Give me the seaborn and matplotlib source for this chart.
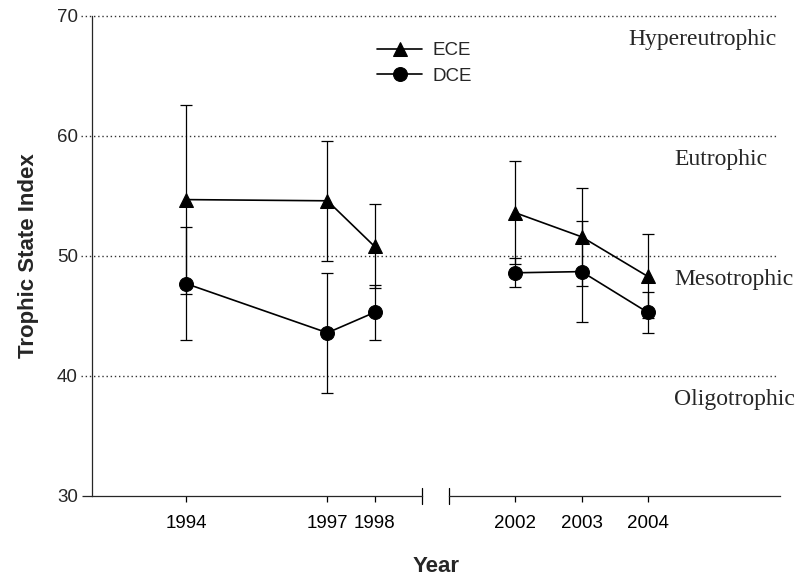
import numpy as np
import pandas as pd
import matplotlib
matplotlib.use("Agg")
import matplotlib.pyplot as plt
import seaborn as sns

# datos
years = [1994, 1997, 1998, 2002, 2003, 2004]
ece_mean = [54.7, 54.6, 50.8, 53.6, 51.6, 48.3]
ece_sd = [7.9, 5.0, 3.5, 4.3, 4.1, 3.5]
dce_mean = [47.7, 43.6, 45.3, 48.6, 48.7, 45.3]
dce_sd = [4.7, 5.0, 2.3, 1.2, 4.2, 1.7]

zone_names = ["Hypereutrophic", "Eutrophic", "Mesotrophic", "Oligotrophic"]
zone_levels = [68, 58, 48, 38]
boundaries = [40, 50, 60, 70]

sns.set_style("ticks")
plt.rcParams['font.family'] = ['Liberation Sans', 'DejaVu Sans']

df = pd.DataFrame({
    'Year': years * 2,
    'TSI': ece_mean + dce_mean,
    'sd': ece_sd + dce_sd,
    'site': ['ECE'] * len(years) + ['DCE'] * len(years),
})

W, H = 801, 584
fig = plt.figure(figsize=(W / 100, H / 100), dpi=100)
ax1 = fig.add_axes([91.7 / W, 88 / H, 330 / W, 480 / H])
ax2 = fig.add_axes([449.3 / W, 88 / H, 330.7 / W, 480 / H], sharey=ax1)
ax1.set_facecolor('none')
ax2.set_facecolor('none')

markers = {'ECE': '^', 'DCE': 'o'}
panels = [(ax1, df[df['Year'] < 2000], (1992, 1999)),
          (ax2, df[df['Year'] > 2000], (2001, 2006))]

for ax, sub, lim in panels:
    for site in ['ECE', 'DCE']:
        s = sub[sub['site'] == site]
        ax.errorbar(s['Year'], s['TSI'], yerr=s['sd'], fmt='none',
                    ecolor='black', elinewidth=0.9, capsize=4, capthick=0.9, zorder=2)
    sns.lineplot(data=sub, x='Year', y='TSI', hue='site', style='site',
                 hue_order=['ECE', 'DCE'], style_order=['ECE', 'DCE'],
                 palette=['black', 'black'], markers=markers, dashes=False,
                 markersize=10, markeredgecolor='black', linewidth=1.2,
                 legend=(ax is ax1), ax=ax, zorder=3)
    ax.set_xlim(*lim)
    ax.set_xticks(sub['Year'].unique())
    ax.set_xlabel('')
    ax.set_ylabel('')
    ax.spines['top'].set_visible(False)
    ax.spines['right'].set_visible(False)
    ax.tick_params(axis='x', length=4.5, width=0.9, pad=9, labelsize=13.5, colors='black')
    ax.spines['bottom'].set_linewidth(0.9)

ax1.set_ylim(30, 70)
ax1.set_yticks([30, 40, 50, 60, 70])
ax1.tick_params(axis='y', length=7, width=0.9, pad=3, labelsize=13.5)
ax1.spines['left'].set_linewidth(0.9)
for t in ax1.yaxis.get_major_ticks()[1:]:
    t.tick1line.set_visible(False)

ax2.spines['left'].set_visible(False)
ax2.tick_params(axis='y', left=False, labelleft=False)

# lineas punteadas de limites troficos
for b in boundaries:
    ax1.axhline(b, xmin=-0.033, xmax=1, color='#333333', ls=(0, (1, 2)), lw=1, clip_on=False, zorder=1)
    ax2.axhline(b, xmin=-0.09, xmax=0.99, color='#333333', ls=(0, (1, 2)), lw=1, clip_on=False, zorder=1)

# marcas del corte del eje
ax1.plot([1, 1], [-0.017, 0.017], transform=ax1.transAxes, color='black', lw=0.9, clip_on=False)
ax2.plot([0, 0], [-0.017, 0.017], transform=ax2.transAxes, color='black', lw=0.9, clip_on=False)

# nombres de zonas
for name, lvl in zip(zone_names, zone_levels):
    xpos = 2003.70 if name == "Hypereutrophic" else 2004.40
    ax2.text(xpos, lvl, name, family=['Liberation Serif', 'DejaVu Serif'],
             fontsize=17, va='center', ha='left', clip_on=False)

ax1.set_ylabel('Trophic State Index', fontsize=16, fontweight='bold', labelpad=13)
fig.text(436 / W, 1 - 566 / H, 'Year', fontsize=16, fontweight='bold', ha='center', va='center')

sns.move_legend(ax1, loc='upper left', bbox_to_anchor=(377 / W, 1 - 42 / H),
                bbox_transform=fig.transFigure, title=None, frameon=False,
                fontsize=13.5, handlelength=2.4, handletextpad=0.55,
                labelspacing=0.45, borderpad=0, borderaxespad=0)

fig.savefig('out.png', dpi=100)
